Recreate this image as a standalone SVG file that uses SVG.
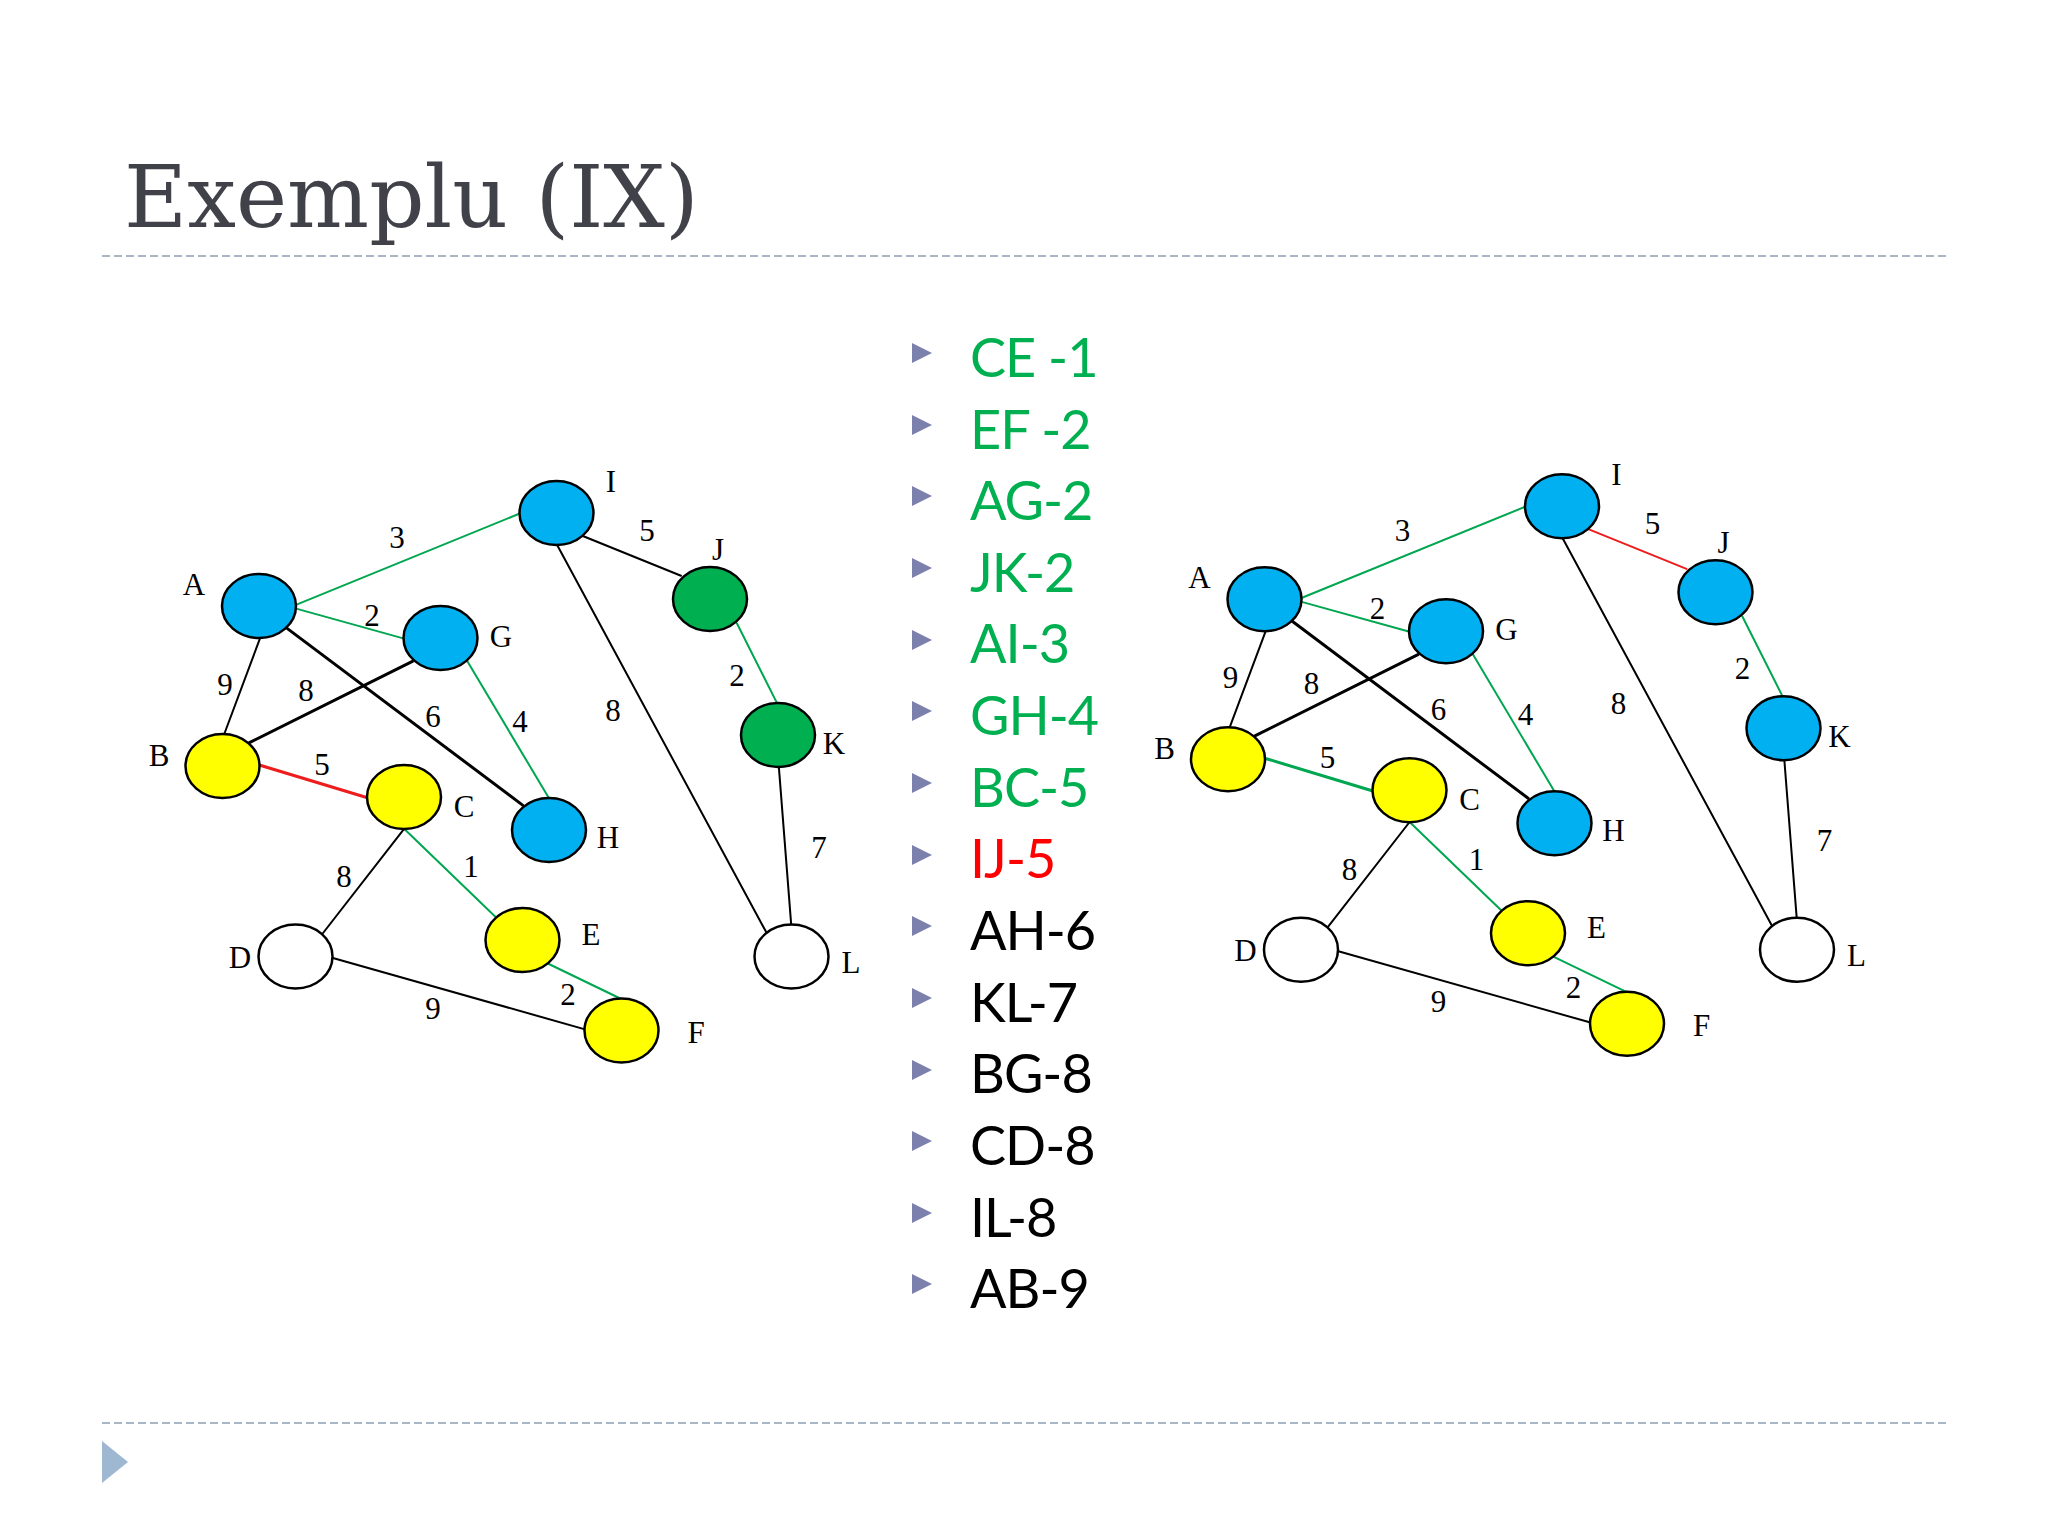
<svg xmlns="http://www.w3.org/2000/svg" width="2048" height="1536" viewBox="0 0 2048 1536">
<defs>
<style>
.bg{fill:#ffffff}
.title{font-family:"DejaVu Serif","Liberation Serif",serif;font-size:86.5px;fill:#414149}
.rule{stroke:#a9b6c6;stroke-width:2.2;stroke-dasharray:8 4;fill:none}
.lbl{font-family:"Liberation Serif","Times New Roman",serif;font-size:31px;fill:#000;text-anchor:middle}
.item{font-family:Lato,"Open Sans",sans-serif;font-size:54px;letter-spacing:-1px}
.g{fill:#00b050}.r{fill:#ff0000}.k{fill:#000}
.bul{fill:#7c80ad}
.e{stroke-width:2;fill:none;stroke-linecap:round}
.t{stroke-width:3}
.eg{stroke:#00a650}.ek{stroke:#000}.er{stroke:#ee1c1c}
.n{stroke:#000;stroke-width:2.5}
.blue{fill:#00b0f0}.yel{fill:#ffff00}.grn{fill:#00b050}.wht{fill:#ffffff}
</style>
</defs>
<rect class="bg" x="0" y="0" width="2048" height="1536"/>
<text class="title" x="124" y="227">Exemplu (IX)</text>
<line class="rule" x1="102" y1="256" x2="1946" y2="256"/>
<line class="rule" x1="102" y1="1423" x2="1946" y2="1423"/>
<polygon points="102,1441 128,1462 102,1483" fill="#9fb8d2"/>

<g id="list">
<g class="bul">
<polygon points="912,343 932,353 912,363"/>
<polygon points="912,415 932,425 912,435"/>
<polygon points="912,486 932,496 912,506"/>
<polygon points="912,558 932,568 912,578"/>
<polygon points="912,630 932,640 912,650"/>
<polygon points="912,701 932,711 912,721"/>
<polygon points="912,773 932,783 912,793"/>
<polygon points="912,845 932,855 912,865"/>
<polygon points="912,916 932,926 912,936"/>
<polygon points="912,988 932,998 912,1008"/>
<polygon points="912,1060 932,1070 912,1080"/>
<polygon points="912,1131 932,1141 912,1151"/>
<polygon points="912,1203 932,1213 912,1223"/>
<polygon points="912,1274 932,1284 912,1294"/>
</g>
<text class="item g" x="970" y="377">CE -1</text>
<text class="item g" x="970" y="449">EF -2</text>
<text class="item g" x="970" y="520">AG-2</text>
<text class="item g" x="970" y="592">JK-2</text>
<text class="item g" x="970" y="663">AI-3</text>
<text class="item g" x="970" y="735">GH-4</text>
<text class="item g" x="970" y="807">BC-5</text>
<text class="item r" x="970" y="878">IJ-5</text>
<text class="item k" x="970" y="950">AH-6</text>
<text class="item k" x="970" y="1022">KL-7</text>
<text class="item k" x="970" y="1093">BG-8</text>
<text class="item k" x="970" y="1165">CD-8</text>
<text class="item k" x="970" y="1237">IL-8</text>
<text class="item k" x="970" y="1308">AB-9</text>
</g>

<!-- LEFT GRAPH -->
<g id="left-graph">
<g id="left-edges">
<line class="e eg" x1="295.3" y1="605.1" x2="520.3" y2="513.3"/>
<line class="e ek" x1="582.2" y1="535.7" x2="681" y2="575.7"/>
<line class="e ek" x1="557" y1="544.7" x2="765.9" y2="931.6"/>
<line class="e ek" x1="778.8" y1="766.3" x2="791.2" y2="924.7"/>
<line class="e ek t" x1="286.1" y1="627.6" x2="522.6" y2="805.1"/>
<line class="e ek" x1="259.9" y1="638.6" x2="224.1" y2="734.5"/>
<line class="e ek t" x1="249.4" y1="742.7" x2="412.4" y2="661.4"/>
<line class="e er t" x1="260.9" y1="765.5" x2="367.4" y2="797.8"/>
<line class="e eg" x1="467.5" y1="661.4" x2="548.7" y2="797.8"/>
<line class="e eg" x1="404.1" y1="828.8" x2="495.9" y2="917.3"/>
<line class="e ek" x1="404.1" y1="828.8" x2="321.9" y2="934.5"/>
<line class="e ek" x1="332" y1="957.8" x2="585.9" y2="1029.6"/>
<line class="e eg" x1="547.8" y1="963.5" x2="621.3" y2="999"/>
<line class="e eg" x1="737" y1="623.5" x2="777.4" y2="703.9"/>
<line class="e eg" x1="295.3" y1="608.4" x2="404.1" y2="638.6"/>
</g>
<g id="left-edge-labels">
<text class="lbl" x="397" y="548">3</text>
<text class="lbl" x="647" y="541">5</text>
<text class="lbl" x="372" y="626">2</text>
<text class="lbl" x="225" y="695">9</text>
<text class="lbl" x="306" y="701">8</text>
<text class="lbl" x="433" y="727">6</text>
<text class="lbl" x="520" y="732">4</text>
<text class="lbl" x="613" y="721">8</text>
<text class="lbl" x="737" y="686">2</text>
<text class="lbl" x="322" y="775">5</text>
<text class="lbl" x="819" y="858">7</text>
<text class="lbl" x="344" y="887">8</text>
<text class="lbl" x="471" y="877">1</text>
<text class="lbl" x="568" y="1005">2</text>
<text class="lbl" x="433" y="1019">9</text>
</g>
<g id="left-A"><ellipse class="n blue" cx="259" cy="606" rx="37" ry="32"/><text class="lbl" x="194" y="595">A</text></g>
<g id="left-I"><ellipse class="n blue" cx="556.5" cy="513" rx="37" ry="32"/><text class="lbl" x="611" y="492">I</text></g>
<g id="left-G"><ellipse class="n blue" cx="440.5" cy="638" rx="37" ry="32"/><text class="lbl" x="501" y="647">G</text></g>
<g id="left-J"><ellipse class="n grn" cx="710" cy="599" rx="37" ry="32"/><text class="lbl" x="718" y="560">J</text></g>
<g id="left-K"><ellipse class="n grn" cx="778" cy="735" rx="37" ry="32"/><text class="lbl" x="834" y="754">K</text></g>
<g id="left-B"><ellipse class="n yel" cx="222.5" cy="766" rx="37" ry="32"/><text class="lbl" x="159" y="766">B</text></g>
<g id="left-C"><ellipse class="n yel" cx="404" cy="797" rx="37" ry="32"/><text class="lbl" x="464" y="817">C</text></g>
<g id="left-H"><ellipse class="n blue" cx="549" cy="830" rx="37" ry="32"/><text class="lbl" x="608" y="848">H</text></g>
<g id="left-D"><ellipse class="n wht" cx="295.5" cy="956.5" rx="37" ry="32"/><text class="lbl" x="240" y="968">D</text></g>
<g id="left-E"><ellipse class="n yel" cx="522.5" cy="940" rx="37" ry="32"/><text class="lbl" x="591" y="945">E</text></g>
<g id="left-F"><ellipse class="n yel" cx="621.5" cy="1030.5" rx="37" ry="32"/><text class="lbl" x="696" y="1043">F</text></g>
<g id="left-L"><ellipse class="n wht" cx="791.5" cy="956.5" rx="37" ry="32"/><text class="lbl" x="851" y="973">L</text></g>
</g>

<!-- RIGHT GRAPH -->
<g id="right-graph" transform="translate(1005.5,-6.8)">
<g id="right-edges">
<line class="e eg" x1="295.3" y1="605.1" x2="520.3" y2="513.3"/>
<line class="e er" x1="582.2" y1="535.7" x2="681" y2="575.7"/>
<line class="e ek" x1="557" y1="544.7" x2="765.9" y2="931.6"/>
<line class="e ek" x1="778.8" y1="766.3" x2="791.2" y2="924.7"/>
<line class="e ek t" x1="286.1" y1="627.6" x2="522.6" y2="805.1"/>
<line class="e ek" x1="259.9" y1="638.6" x2="224.1" y2="734.5"/>
<line class="e ek t" x1="249.4" y1="742.7" x2="412.4" y2="661.4"/>
<line class="e eg t" x1="260.9" y1="765.5" x2="367.4" y2="797.8"/>
<line class="e eg" x1="467.5" y1="661.4" x2="548.7" y2="797.8"/>
<line class="e eg" x1="404.1" y1="828.8" x2="495.9" y2="917.3"/>
<line class="e ek" x1="404.1" y1="828.8" x2="321.9" y2="934.5"/>
<line class="e ek" x1="332" y1="957.8" x2="585.9" y2="1029.6"/>
<line class="e eg" x1="547.8" y1="963.5" x2="621.3" y2="999"/>
<line class="e eg" x1="737" y1="623.5" x2="777.4" y2="703.9"/>
<line class="e eg" x1="295.3" y1="608.4" x2="404.1" y2="638.6"/>
</g>
<g id="right-edge-labels">
<text class="lbl" x="397" y="548">3</text>
<text class="lbl" x="647" y="541">5</text>
<text class="lbl" x="372" y="626">2</text>
<text class="lbl" x="225" y="695">9</text>
<text class="lbl" x="306" y="701">8</text>
<text class="lbl" x="433" y="727">6</text>
<text class="lbl" x="520" y="732">4</text>
<text class="lbl" x="613" y="721">8</text>
<text class="lbl" x="737" y="686">2</text>
<text class="lbl" x="322" y="775">5</text>
<text class="lbl" x="819" y="858">7</text>
<text class="lbl" x="344" y="887">8</text>
<text class="lbl" x="471" y="877">1</text>
<text class="lbl" x="568" y="1005">2</text>
<text class="lbl" x="433" y="1019">9</text>
</g>
<g id="right-A"><ellipse class="n blue" cx="259" cy="606" rx="37" ry="32"/><text class="lbl" x="194" y="595">A</text></g>
<g id="right-I"><ellipse class="n blue" cx="556.5" cy="513" rx="37" ry="32"/><text class="lbl" x="611" y="492">I</text></g>
<g id="right-G"><ellipse class="n blue" cx="440.5" cy="638" rx="37" ry="32"/><text class="lbl" x="501" y="647">G</text></g>
<g id="right-J"><ellipse class="n blue" cx="710" cy="599" rx="37" ry="32"/><text class="lbl" x="718" y="560">J</text></g>
<g id="right-K"><ellipse class="n blue" cx="778" cy="735" rx="37" ry="32"/><text class="lbl" x="834" y="754">K</text></g>
<g id="right-B"><ellipse class="n yel" cx="222.5" cy="766" rx="37" ry="32"/><text class="lbl" x="159" y="766">B</text></g>
<g id="right-C"><ellipse class="n yel" cx="404" cy="797" rx="37" ry="32"/><text class="lbl" x="464" y="817">C</text></g>
<g id="right-H"><ellipse class="n blue" cx="549" cy="830" rx="37" ry="32"/><text class="lbl" x="608" y="848">H</text></g>
<g id="right-D"><ellipse class="n wht" cx="295.5" cy="956.5" rx="37" ry="32"/><text class="lbl" x="240" y="968">D</text></g>
<g id="right-E"><ellipse class="n yel" cx="522.5" cy="940" rx="37" ry="32"/><text class="lbl" x="591" y="945">E</text></g>
<g id="right-F"><ellipse class="n yel" cx="621.5" cy="1030.5" rx="37" ry="32"/><text class="lbl" x="696" y="1043">F</text></g>
<g id="right-L"><ellipse class="n wht" cx="791.5" cy="956.5" rx="37" ry="32"/><text class="lbl" x="851" y="973">L</text></g>
</g>
</svg>
